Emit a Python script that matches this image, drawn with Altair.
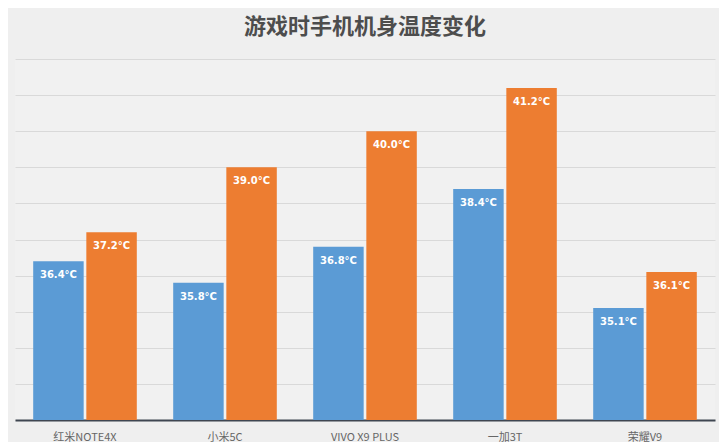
import altair as alt
import pandas as pd

categories = ["红米NOTE4X", "小米5C", "VIVO X9 PLUS", "一加3T", "荣耀V9"]
series_names = ["游戏前", "游戏后"]
before_vals = [36.4, 35.8, 36.8, 38.4, 35.1]
after_vals = [37.2, 39.0, 40.0, 41.2, 36.1]

rows = []
for c, b, a in zip(categories, before_vals, after_vals):
    rows.append({"phone": c, "series": series_names[0], "temp": b})
    rows.append({"phone": c, "series": series_names[1], "temp": a})
df = pd.DataFrame(rows)
df["label"] = df["temp"].map(lambda v: f"{v:.1f}°C")

x = alt.X("phone:N", sort=categories, title=None,
          scale=alt.Scale(paddingInner=0.26, paddingOuter=0.13),
          axis=alt.Axis(labelAngle=0, ticks=False, domainColor="#3f4651", domainWidth=2,
                        labelColor="#666666", labelFontSize=11, labelPadding=11,
                        labelFont="Noto Sans CJK SC"))
xoff = alt.XOffset("series:N", sort=series_names, scale=alt.Scale(paddingInner=0.05))
y = alt.Y("temp:Q", title=None,
          scale=alt.Scale(domain=[32, 42], zero=False, nice=False),
          axis=alt.Axis(values=list(range(32, 43)), labels=False, ticks=False, domain=False,
                        grid=True, gridColor="#d9d9d9", gridWidth=1))
color = alt.Color("series:N", sort=series_names, legend=None,
                  scale=alt.Scale(domain=series_names, range=["#5b9bd5", "#ed7d31"]))

bars = alt.Chart(df).mark_bar().encode(
    x=x, xOffset=xoff, y=y, y2=alt.datum(32), color=color
)
labels = alt.Chart(df).mark_text(
    color="white", fontWeight="bold", fontSize=10, baseline="top", dy=9,
    font="DejaVu Sans"
).encode(x=x, xOffset=xoff, y=y, text="label:N")

chart = (bars + labels).properties(
    width=711, height=434,
    autosize=alt.AutoSizeParams(type="fit", contains="padding"),
    padding={"left": 7, "top": 8, "right": 4, "bottom": 0},
    background="#efefef",
    title=alt.TitleParams("游戏时手机机身温度变化", fontSize=22, fontWeight="bold",
                          color="#4d4d4d", font="Noto Sans CJK SC", offset=20,
                          anchor="middle"),
).configure_view(stroke=None, fill="#f1f1f1")

chart.save("out.html", embed_options={"renderer": "svg", "actions": False})
